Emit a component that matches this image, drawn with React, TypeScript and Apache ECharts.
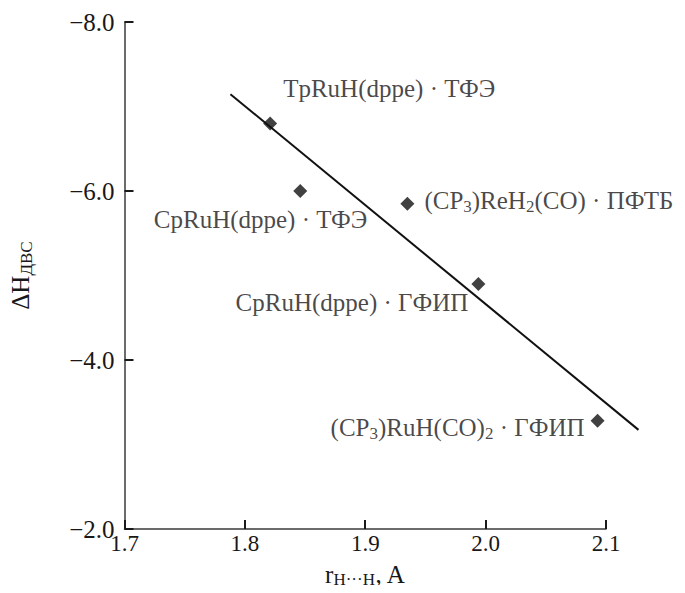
import React, { useEffect, useRef } from "react";
import * as echarts from "echarts";

const rDistance = [1.821, 1.846, 1.935, 1.994, 2.093];
const deltaH = [-6.8, -6.0, -5.85, -4.9, -3.28];
const compoundLabels = [
  "{n|TpRuH(dppe) · ТФЭ}",
  "{n|CpRuH(dppe) · ТФЭ}",
  "{n|(CP}{s|3}{n|)ReH}{s|2}{n|(CO) · ПФТБ}",
  "{n|CpRuH(dppe) · ГФИП}",
  "{n|(CP}{s|3}{n|)RuH(CO)}{s|2}{n| · ГФИП}",
];
const fitX = [1.788, 2.127];
const fitY = [-7.146, -3.173];
const xTicks = { min: 1.7, max: 2.1, step: 0.1 };
const yTicks = { min: -8, max: -2, step: 2 };

// label placement (style only)
const labelPlacement: { align: string; offset: [number, number] }[] = [
  { align: "left", offset: [13, -35] },
  { align: "right", offset: [67, 28] },
  { align: "left", offset: [17, -3] },
  { align: "right", offset: [-10, 19] },
  { align: "right", offset: [-13, 7] },
];

const FONT = "'Liberation Serif', 'Times New Roman', serif";
const TEXT = "#1a1718";
const FS = 25;

const rich = {
  n: { fontFamily: FONT, fontSize: FS, color: TEXT, lineHeight: 28 },
  s: { fontFamily: FONT, fontSize: 17, color: TEXT, lineHeight: 17, verticalAlign: "bottom" },
};

export default function App() {
  const ref = useRef<HTMLDivElement>(null);
  useEffect(() => {
    if (!ref.current) return;
    const chart = echarts.init(ref.current, null, { renderer: "svg" });
    const fmtMinus = (v: number) => (v < 0 ? "\u2212" : "") + Math.abs(v).toFixed(1);
    chart.setOption({
      animation: false,
      backgroundColor: "#ffffff",
      grid: { left: 120, right: 79, top: 22, bottom: 63, containLabel: false },
      xAxis: {
        type: "value",
        min: xTicks.min,
        max: xTicks.max,
        interval: xTicks.step,
        splitLine: { show: false },
        axisLine: { lineStyle: { color: "#3a3a3a", width: 1.5 } },
        axisTick: { inside: true, length: 9, lineStyle: { color: "#1a1a1a", width: 2 } },
        axisLabel: {
          margin: 3,
          fontFamily: FONT,
          fontSize: 23,
          color: TEXT,
          formatter: (v: number) => v.toFixed(1),
        },
        name: "{n|r}{s|H···H}{n|, A}",
        nameLocation: "middle",
        nameGap: 31,
        nameTextStyle: { rich },
      },
      yAxis: {
        type: "value",
        inverse: true,
        min: yTicks.min,
        max: yTicks.max,
        interval: yTicks.step,
        splitLine: { show: false },
        axisLine: { lineStyle: { color: "#3a3a3a", width: 1.5 } },
        axisTick: { inside: true, length: 9, lineStyle: { color: "#1a1a1a", width: 2 } },
        axisLabel: {
          margin: 10,
          fontFamily: FONT,
          fontSize: FS,
          color: TEXT,
          formatter: fmtMinus,
        },
        name: "{n|ΔH}{s|ДВС}",
        nameLocation: "middle",
        nameGap: 90,
        nameRotate: 90,
        nameTextStyle: { rich },
      },
      series: [
        {
          type: "custom",
          clip: false,
          z: 2,
          data: [[fitX[0], fitY[0], fitX[1], fitY[1]]],
          encode: { x: [0, 2], y: [1, 3] },
          renderItem: (_params: any, api: any) => {
            const p1 = api.coord([api.value(0), api.value(1)]);
            const p2 = api.coord([api.value(2), api.value(3)]);
            return {
              type: "line",
              shape: { x1: p1[0], y1: p1[1], x2: p2[0], y2: p2[1] },
              style: { stroke: "#111111", lineWidth: 2 },
            };
          },
        },
        {
          type: "scatter",
          symbol: "diamond",
          symbolSize: 14,
          itemStyle: { color: "#111111" },
          z: 3,
          data: rDistance.map((x, i) => ({
            value: [x, deltaH[i]],
            label: {
              show: true,
              position: "inside",
              align: labelPlacement[i].align,
              verticalAlign: "middle",
              offset: labelPlacement[i].offset,
              formatter: compoundLabels[i],
              rich,
            },
          })),
        },
      ],
    });
    return () => chart.dispose();
  }, []);
  return <div ref={ref} style={{ width: 685, height: 593, margin: -8 }} />;
}
